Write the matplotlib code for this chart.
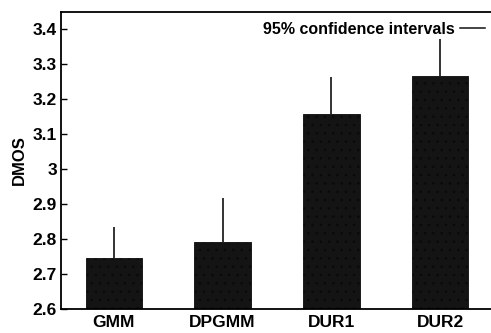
import numpy as np
import matplotlib.pyplot as plt
from matplotlib.lines import Line2D

plt.rcParams['font.family'] = ['Liberation Sans', 'DejaVu Sans']
plt.rcParams['font.weight'] = 'bold'
plt.rcParams['hatch.color'] = '#4a4a4a'
plt.rcParams['hatch.linewidth'] = 0.6

methods = ['GMM', 'DPGMM', 'DUR1', 'DUR2']
dmos = [2.747, 2.792, 3.157, 3.266]
ci_upper = [0.088, 0.124, 0.107, 0.105]
yticks = [2.6, 2.7, 2.8, 2.9, 3.0, 3.1, 3.2, 3.3, 3.4]
ytick_labels = ['2.6', '2.7', '2.8', '2.9', '3', '3.1', '3.2', '3.3', '3.4']

fig = plt.figure(figsize=(4.91, 3.33), dpi=100)
ax = fig.add_axes([0.1242, 0.072, 0.885, 0.892])

x = np.arange(len(methods))
ax.bar(x, dmos, width=0.52, color='#141414', edgecolor='#0a0a0a', hatch='..',
       linewidth=0.6, zorder=2)
ax.errorbar(x, dmos, yerr=[np.zeros(len(x)), ci_upper], fmt='none',
            ecolor='#111111', elinewidth=1.2, capsize=0, zorder=3)

ax.set_ylim(2.6, 3.449)
ax.set_xlim(-0.486, 3.51)
ax.set_yticks(yticks)
ax.set_yticklabels(ytick_labels, fontsize=12.5, fontweight='bold')
ax.set_xticks(x)
ax.set_xticklabels(methods, fontsize=12.5, fontweight='bold')
ax.tick_params(axis='y', direction='in', length=4, width=1, pad=3)
ax.tick_params(axis='x', length=0, pad=4)
ax.set_ylabel('DMOS', fontsize=12, fontweight='bold', labelpad=4)

for side in ['left', 'bottom', 'top']:
    ax.spines[side].set_linewidth(1.3)
ax.spines['right'].set_visible(False)

handle = Line2D([], [], color='#111111', lw=1.1)
ax.legend(handles=[handle], labels=['95% confidence intervals'], loc='upper right',
          frameon=False, markerfirst=False, handlelength=1.6, handletextpad=0.3,
          fontsize=11.5, borderaxespad=0.2, bbox_to_anchor=(0.998, 1.0))

fig.savefig('out.png', dpi=100)
